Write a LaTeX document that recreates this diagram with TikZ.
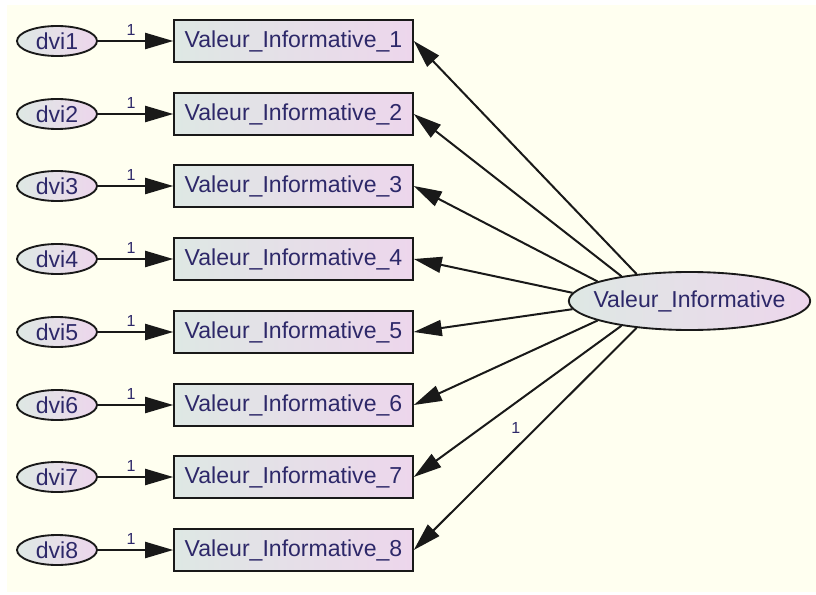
\documentclass[tikz,border=0pt]{standalone}
\usepackage{fontspec}
\setmainfont{Liberation Sans}
\usetikzlibrary{arrows.meta,shapes.geometric}
\definecolor{bgiv}{RGB}{255,255,240}
\definecolor{shl}{RGB}{222,232,228}
\definecolor{shr}{RGB}{237,214,236}
\definecolor{txt}{RGB}{45,40,105}
\begin{document}
\begin{tikzpicture}[
  x=0.75pt, y=-0.75pt,
  err/.style={ellipse, draw=black!90, line width=1.4pt, inner sep=0pt,
    minimum width=60pt, minimum height=22.5pt, left color=shl, right color=shr,
    text=txt, font=\fontsize{17.3}{20}\selectfont},
  ob/.style={rectangle, draw=black!90, line width=1.4pt,
    minimum width=179pt, minimum height=31.5pt, left color=shl, right color=shr,
    text=txt, font=\fontsize{17.3}{20}\selectfont},
  lv/.style={ellipse, draw=black!90, line width=1.4pt, inner sep=0pt,
    minimum width=181pt, minimum height=43.5pt, left color=shl, right color=shr,
    text=txt, font=\fontsize{17.3}{20}\selectfont},
  e/.style={line width=1.5pt, draw=black!90, -{Triangle[length=21pt,width=12pt]}},
  w/.style={text=txt, font=\fontsize{12}{14}\selectfont}
]
\useasboundingbox (0,0) rectangle (816,595);
\fill[white] (0,0) rectangle (816,595);
\fill[bgiv] (7,5) rectangle (816,592);
% erreurs
\node[err] (d1) at (57,41) {dvi1};
\node[err] (d2) at (57,114) {dvi2};
\node[err] (d3) at (57,186) {dvi3};
\node[err] (d4) at (57,259) {dvi4};
\node[err] (d5) at (57,332) {dvi5};
\node[err] (d6) at (57,405) {dvi6};
\node[err] (d7) at (57,477) {dvi7};
\node[err] (d8) at (57,550) {dvi8};
% indicateurs
\node[ob] (i1) at (293.5,41) {Valeur\_Informative\_1};
\node[ob] (i2) at (293.5,114) {Valeur\_Informative\_2};
\node[ob] (i3) at (293.5,186) {Valeur\_Informative\_3};
\node[ob] (i4) at (293.5,259) {Valeur\_Informative\_4};
\node[ob] (i5) at (293.5,332) {Valeur\_Informative\_5};
\node[ob] (i6) at (293.5,405) {Valeur\_Informative\_6};
\node[ob] (i7) at (293.5,477) {Valeur\_Informative\_7};
\node[ob] (i8) at (293.5,550) {Valeur\_Informative\_8};
% facteur
\node[lv] (VI) at (689.5,301) {\makebox[90pt]{Valeur\_Informative}};
\draw[e] (d1) -- node[w, above, pos=0.44] {1} (i1);
\draw[e] (d2) -- node[w, above, pos=0.44] {1} (i2);
\draw[e] (d3) -- node[w, above, pos=0.44] {1} (i3);
\draw[e] (d4) -- node[w, above, pos=0.44] {1} (i4);
\draw[e] (d5) -- node[w, above, pos=0.44] {1} (i5);
\draw[e] (d6) -- node[w, above, pos=0.44] {1} (i6);
\draw[e] (d7) -- node[w, above, pos=0.44] {1} (i7);
\draw[e] (d8) -- node[w, above, pos=0.44] {1} (i8);
\draw[e] (VI.153) -- (i1.east);
\draw[e] (VI.160) -- (i2.east);
\draw[e] (VI.168) -- (i3.east);
\draw[e] (VI.176) -- (i4.east);
\draw[e] (VI.184) -- (i5.east);
\draw[e] (VI.192) -- (i6.east);
\draw[e] (VI.200) -- (i7.east);
\draw[e] (VI.207) -- node[w, pos=0.45, left=8pt] {1} (i8.east);
\end{tikzpicture}
\end{document}
